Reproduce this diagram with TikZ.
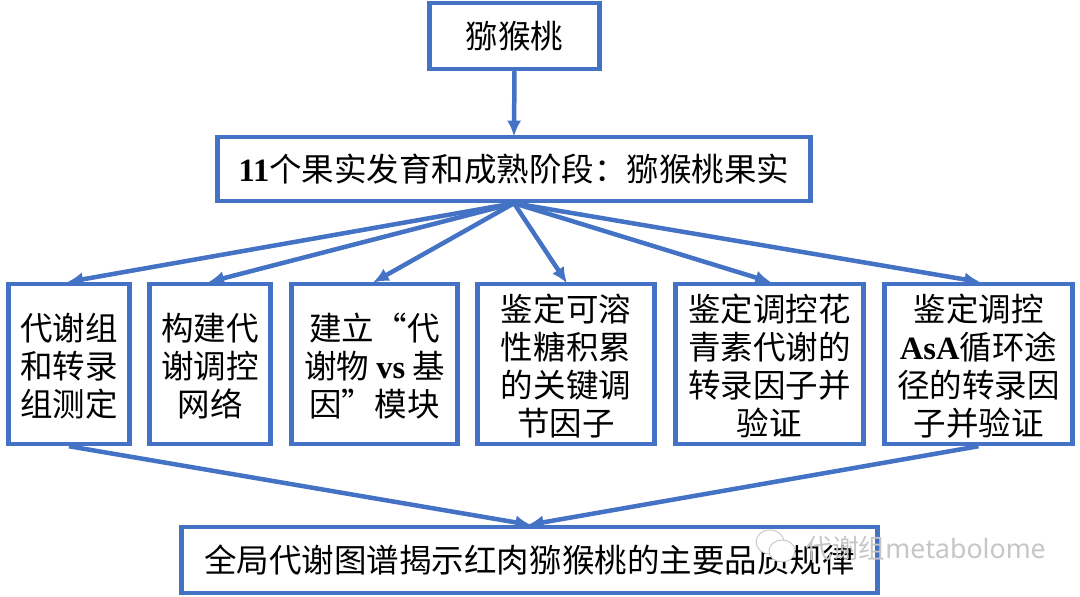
\documentclass[tikz,border=0pt]{standalone}
\usepackage{fontspec}
\setmainfont{Noto Sans CJK SC}
\newfontfamily\latinbf[Scale=1.0]{Liberation Serif Bold}
\newfontfamily\marksans{Noto Sans}
\usetikzlibrary{arrows.meta}
\definecolor{boxblue}{HTML}{4472C4}
\tikzset{>={Latex[length=9pt,width=8pt]}}
\tikzset{
  box/.style={draw=boxblue, line width=0.09cm, align=center, inner sep=0pt, font=\fontsize{18.5}{21.6}\selectfont},
  rowbox/.style={box, minimum height=3.2cm},
  link/.style={draw=boxblue, line width=0.09cm, ->, shorten >=-1pt},
  wmark/.style={gray!45, font=\fontsize{15.2}{15}\selectfont}
}
\newcommand{\bl}[1]{{\latinbf #1}}
\newcommand{\firstline}{\rule{0pt}{18.2pt}}

\begin{document}
\begin{tikzpicture}[x=0.02cm, y=-0.02cm]
\useasboundingbox (0,0) rectangle (1080,597);
\node[box, minimum width=3.40cm, minimum height=1.32cm] (kiwi) at (514.5,36) {猕猴桃};
\node[box, minimum width=11.86cm, minimum height=1.28cm] (stage) at (514,169) {\bl{11}个果实发育和成熟阶段：猕猴桃果实};
\node[rowbox, minimum width=2.42cm] (omics) at (69,364) {\firstline 代谢组\\和转录\\组测定};
\node[rowbox, minimum width=2.42cm] (network) at (210,364) {\firstline 构建代\\谢调控\\网络};
\node[rowbox, minimum width=3.32cm] (module) at (374.5,364) {\firstline 建立“代\\谢物 \bl{vs} 基\\因”模块};
\node[rowbox, minimum width=3.54cm] (sugar) at (566,364) {\firstline 鉴定可溶\\性糖积累\\的关键调\\节因子};
\node[rowbox, minimum width=3.76cm] (antho) at (769.5,364) {\firstline 鉴定调控花\\青素代谢的\\转录因子并\\验证};
\node[rowbox, minimum width=3.76cm] (asa) at (978.5,364) {\firstline 鉴定调控\\\bl{AsA}循环途\\径的转录因\\子并验证};
\node[box, minimum width=13.92cm, minimum height=1.32cm] (rule) at (529.5,560) {全局代谢图谱揭示红肉猕猴桃的主要品质规律};

\draw[link] (kiwi.south)--(stage.north);
\draw[link] (stage.south)--(omics.north);
\draw[link] (stage.south)--(network.north);
\draw[link] (stage.south)--(module.north);
\draw[link] (stage.south)--(sugar.north);
\draw[link] (stage.south)--(antho.north);
\draw[link] (stage.south)--(asa.north);
\draw[link] (omics.south)--(rule.north);
\draw[link] (asa.south)--(rule.north);

% watermark
\draw[gray!45, fill=white, line width=0.5pt] (770,542) ellipse (14 and 12);
\draw[gray!45, fill=white, line width=0.5pt] (782,551) ellipse (13 and 11);
\node[wmark, anchor=west, inner sep=0pt] (mark) at (805,548) {代谢组{\marksans metabolome}};
\end{tikzpicture}
\end{document}
